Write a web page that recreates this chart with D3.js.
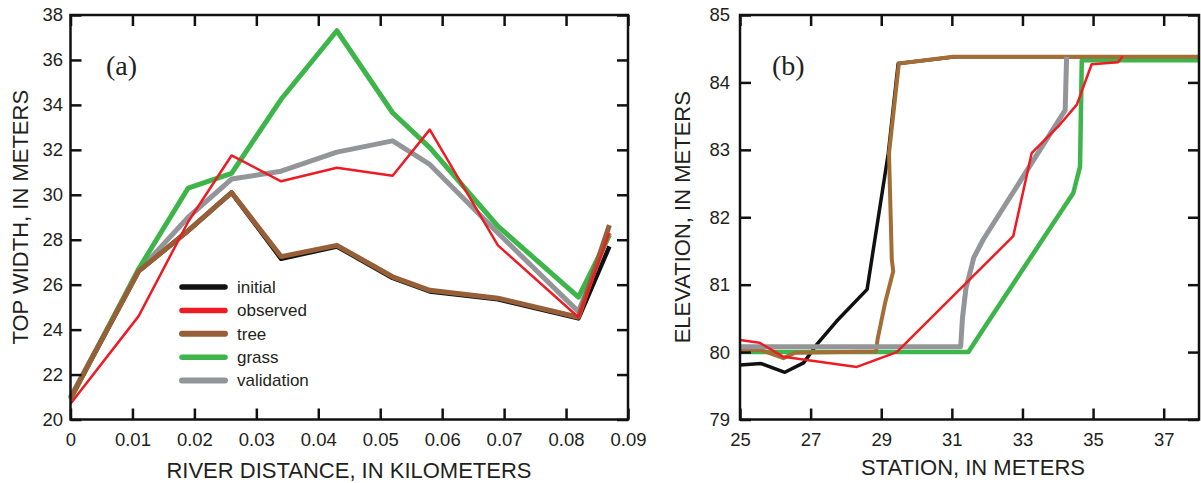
<!DOCTYPE html>
<html>
<head>
<meta charset="utf-8">
<script src="https://cdn.jsdelivr.net/npm/d3@7"></script>
<style>
  body { margin: 0; background: #fff; }
</style>
</head>
<body>
<svg></svg>
<script>
// ---- panel (a) data: top width along the reach
const distKm = [0, 0.011, 0.019, 0.026, 0.034, 0.043, 0.052, 0.058, 0.069, 0.082, 0.087];
const initialWidth = [20.95, 26.6, 28.4, 30.1, 27.15, 27.7, 26.3, 25.7, 25.35, 24.5, 27.7];
const observedWidth = [20.7, 24.6, 28.8, 31.75, 30.6, 31.2, 30.85, 32.9, 27.75, 24.55, 28.3];
const treeWidth = [20.95, 26.6, 28.4, 30.1, 27.25, 27.75, 26.35, 25.75, 25.4, 24.55, 28.65];
const grassWidth = [20.9, 26.7, 30.3, 30.95, 34.25, 37.3, 33.65, 32.1, 28.6, 25.45, 28.2];
const validationWidth = [21.0, 26.6, 29.0, 30.7, 31.05, 31.9, 32.4, 31.35, 28.3, 24.8, 28.3];

const distTicks = [0, 0.01, 0.02, 0.03, 0.04, 0.05, 0.06, 0.07, 0.08, 0.09];
const widthTicks = [20, 22, 24, 26, 28, 30, 32, 34, 36, 38];

// ---- panel (b) data: cross-section profiles [station, elevation]
const initialProfile = [[25, 79.81], [25.6, 79.83], [26.27, 79.7], [26.8, 79.84], [27.17, 80.11], [27.74, 80.46], [28.6, 80.93], [29.2, 82.95], [29.48, 84.28], [31.1, 84.38], [38, 84.38]];
const observedProfile = [[25, 80.18], [25.55, 80.14], [26.23, 79.93], [28.31, 79.78], [29.44, 80.0], [32.74, 81.72], [33.26, 82.95], [34.02, 83.35], [34.54, 83.67], [34.96, 84.27], [35.71, 84.3], [35.84, 84.39]];
const treeProfile = [[25, 80.03], [25.6, 80.03], [26.23, 79.91], [26.56, 79.99], [28.85, 80.01], [28.9, 80.2], [29.11, 80.73], [29.34, 81.2], [29.3, 81.37], [29.22, 82.95], [29.5, 84.28], [31.04, 84.38], [38, 84.38]];
const grassProfile = [[25, 80.0], [31.47, 80.0], [31.94, 80.38], [34.44, 82.36], [34.63, 82.75], [34.68, 84.33], [38, 84.33]];
const validationProfile = [[25, 80.08], [31.25, 80.08], [31.3, 80.5], [31.4, 80.95], [31.56, 81.27], [31.62, 81.4], [31.89, 81.67], [34.21, 83.59], [34.25, 84.38]];

const stationTicks = [25, 27, 29, 31, 33, 35, 37];
const elevTicks = [79, 80, 81, 82, 83, 84, 85];

const legendNames = ['initial', 'observed', 'tree', 'grass', 'validation'];

const WIDTH = 1201;
const HEIGHT = 483;
const TOP = 15;
const BOTTOM = 419.5;
const TICK = 11;
const FONT = '"Liberation Sans", Arial, sans-serif';
const TEXT_COLOR = '#231f20';

const colors = {
  initial: '#111111',
  observed: '#ed1c24',
  tree: '#965f38',
  treeB: '#a36d36',
  grass: '#3db54a',
  validation: '#939598' };


const svg = d3.select('svg').
attr('width', WIDTH).
attr('height', HEIGHT).
attr('font-family', FONT);

svg.append('rect').
attr('width', WIDTH).
attr('height', HEIGHT).
attr('fill', '#fff');

function frame(g, x, y, xTicks, yTicks, padX, padY) {
  const ax = g.append('g').
  attr('transform', `translate(0, ${BOTTOM})`).
  call(d3.axisBottom(x).tickValues(xTicks).tickFormat(d => String(d)).
  tickSizeInner(-TICK).tickSizeOuter(0).tickPadding(padX));
  const ay = g.append('g').
  attr('transform', `translate(${x.range()[0]}, 0)`).
  call(d3.axisLeft(y).tickValues(yTicks).tickFormat(d => String(d)).
  tickSizeInner(-TICK).tickSizeOuter(0).tickPadding(padY));
  const at = g.append('g').
  attr('transform', `translate(0, ${TOP})`).
  call(d3.axisTop(x).tickValues(xTicks).tickSizeInner(-TICK).tickSizeOuter(0).tickFormat(''));
  const ar = g.append('g').
  attr('transform', `translate(${x.range()[1]}, 0)`).
  call(d3.axisRight(y).tickValues(yTicks).tickSizeInner(-TICK).tickSizeOuter(0).tickFormat(''));

  [ax, ay, at, ar].forEach(a => {
    a.select('.domain').remove();
    a.selectAll('line').attr('stroke', '#111').attr('stroke-width', 2.5);
    a.selectAll('text').
    attr('font-family', FONT).
    attr('font-size', '18.5px').
    attr('fill', TEXT_COLOR);
  });

  g.append('rect').
  attr('x', x.range()[0]).
  attr('y', TOP).
  attr('width', x.range()[1] - x.range()[0]).
  attr('height', BOTTOM - TOP).
  attr('fill', 'none').
  attr('stroke', '#111').
  attr('stroke-width', 2.5);
}

/* --PANEL A-- */

const xA = d3.scaleLinear().domain([0, 0.09]).range([70.5, 628]);
const yA = d3.scaleLinear().domain([20, 38]).range([BOTTOM, TOP]);

const gA = svg.append('g');

const lineA = d3.line().
x((d, i) => xA(distKm[i])).
y(d => yA(d));

const seriesA = [
{ name: 'initial', values: initialWidth, color: colors.initial, w: 4.5 },
{ name: 'validation', values: validationWidth, color: colors.validation, w: 5 },
{ name: 'grass', values: grassWidth, color: colors.grass, w: 5 },
{ name: 'tree', values: treeWidth, color: colors.tree, w: 5 },
{ name: 'observed', values: observedWidth, color: colors.observed, w: 2.5 }];


gA.selectAll('path.series').
data(seriesA).
enter().
append('path').
attr('class', 'series').
attr('d', d => lineA(d.values)).
attr('fill', 'none').
attr('stroke', d => d.color).
attr('stroke-width', d => d.w).
attr('stroke-linejoin', 'round');

frame(gA, xA, yA, distTicks, widthTicks, 13, 7.5);

gA.append('text').
attr('x', 106).
attr('y', 75).
attr('font-family', '"Liberation Serif", "Times New Roman", serif').
attr('font-size', '28px').
attr('fill', TEXT_COLOR).
text('(a)');

gA.append('text').
attr('x', (70 + 628) / 2).
attr('y', 478).
attr('text-anchor', 'middle').
attr('font-size', '22px').
attr('fill', TEXT_COLOR).
text('RIVER DISTANCE, IN KILOMETERS');

gA.append('text').
attr('transform', `translate(28, ${(TOP + BOTTOM) / 2}) rotate(-90)`).
attr('text-anchor', 'middle').
attr('font-size', '22px').
attr('fill', TEXT_COLOR).
text('TOP WIDTH, IN METERS');

// --legend
const legendY = d3.scalePoint().domain(legendNames).range([287, 380.5]);
const legendW = { initial: 5.5, observed: 5.5, tree: 6, grass: 5.5, validation: 6 };

const legendG = gA.append('g').attr('id', 'legend');

legendG.selectAll('line').
data(legendNames).
enter().
append('line').
attr('x1', 182).
attr('x2', 225).
attr('y1', d => legendY(d)).
attr('y2', d => legendY(d)).
attr('stroke', d => colors[d]).
attr('stroke-width', d => legendW[d]).
attr('stroke-linecap', 'round');

legendG.selectAll('text').
data(legendNames).
enter().
append('text').
attr('x', 237).
attr('y', d => legendY(d)).
attr('dy', '0.35em').
attr('font-size', '17px').
attr('fill', TEXT_COLOR).
text(d => d);

/* --PANEL B-- */

const xB = d3.scaleLinear().domain([25, 38]).range([740, 1199]);
const yB = d3.scaleLinear().domain([79, 85]).range([BOTTOM, TOP]);

const gB = svg.append('g');

const lineB = d3.line().
x(d => xB(d[0])).
y(d => yB(d[1]));

const seriesB = [
{ name: 'initial', values: initialProfile, color: colors.initial, w: 3.5 },
{ name: 'grass', values: grassProfile, color: colors.grass, w: 4.5 },
{ name: 'tree', values: treeProfile, color: colors.treeB, w: 4 },
{ name: 'validation', values: validationProfile, color: colors.validation, w: 5 },
{ name: 'observed', values: observedProfile, color: colors.observed, w: 2.5 }];


gB.selectAll('path.series').
data(seriesB).
enter().
append('path').
attr('class', 'series').
attr('d', d => lineB(d.values)).
attr('fill', 'none').
attr('stroke', d => d.color).
attr('stroke-width', d => d.w).
attr('stroke-linejoin', 'round');

frame(gB, xB, yB, stationTicks, elevTicks, 13, 10);

gB.append('text').
attr('x', 772).
attr('y', 75).
attr('font-family', '"Liberation Serif", "Times New Roman", serif').
attr('font-size', '28px').
attr('fill', TEXT_COLOR).
text('(b)');

gB.append('text').
attr('x', 973).
attr('y', 475).
attr('text-anchor', 'middle').
attr('font-size', '22px').
attr('fill', TEXT_COLOR).
text('STATION, IN METERS');

gB.append('text').
attr('transform', `translate(690, ${(TOP + BOTTOM) / 2}) rotate(-90)`).
attr('text-anchor', 'middle').
attr('font-size', '22px').
attr('fill', TEXT_COLOR).
text('ELEVATION, IN METERS');
</script>
</body>
</html>
